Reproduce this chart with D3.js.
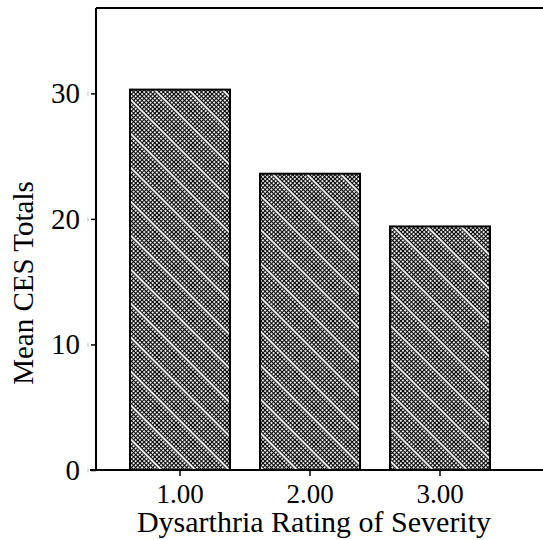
<!DOCTYPE html>
<html>
<head>
<meta charset="utf-8">
<script src="https://cdn.jsdelivr.net/npm/d3@7"></script>
<style>
  body { margin: 0; background: #fff; }
  text { font-family: "Liberation Serif", "Times New Roman", serif; fill: #000; }
</style>
</head>
<body>
<script>
var w = 543;
var h = 540;

// Data
var categories = ["1.00", "2.00", "3.00"];
var meanTotals = [30.3, 23.6, 19.4];
var yTicks = [0, 10, 20, 30];

var plotLeft = 96, plotTop = 8, plotBottom = 470;

var svg = d3.select("body")
    .append("svg")
    .attr("width", w)
    .attr("height", h);

// hatch fill like the old SPSS bars
var defs = svg.append("defs");
var pat = defs.append("pattern")
    .attr("id", "hatch")
    .attr("patternUnits", "userSpaceOnUse")
    .attr("width", 24)
    .attr("height", 24)
    .attr("patternTransform", "rotate(45)");
pat.append("rect").attr("width", 24).attr("height", 24).attr("fill", "#fff");
for (var i = 0; i < 8; i++) {
    pat.append("rect").attr("x", 0).attr("y", i * 3).attr("width", 24).attr("height", 1.2).attr("fill", "#000");
    pat.append("rect").attr("x", i * 3).attr("y", 0).attr("width", 1).attr("height", 24).attr("fill", "#000");
}
pat.append("rect").attr("x", 0).attr("y", 1.3).attr("width", 24).attr("height", 1.9).attr("fill", "#fff");

var xScale = d3.scaleBand()
    .domain(categories)
    .range([115, 505])
    .paddingInner(30 / 130)
    .paddingOuter(15 / 130);

var yScale = d3.scaleLinear()
    .domain([0, 36.8])
    .range([plotBottom, plotTop]);

// bars
svg.selectAll("rect.bar")
    .data(meanTotals)
    .enter()
    .append("rect")
    .attr("class", "bar")
    .attr("x", function(d, i) { return xScale(categories[i]); })
    .attr("y", function(d) { return yScale(d); })
    .attr("width", xScale.bandwidth())
    .attr("height", function(d) { return plotBottom - yScale(d); })
    .attr("fill", "url(#hatch)")
    .attr("stroke", "#000")
    .attr("stroke-width", 2);

// frame: top line
svg.append("line")
    .attr("x1", plotLeft).attr("x2", w)
    .attr("y1", plotTop).attr("y2", plotTop)
    .attr("stroke", "#000").attr("stroke-width", 2);

// y axis
var yAxis = svg.append("g")
    .attr("transform", "translate(" + plotLeft + ",0)")
    .call(d3.axisLeft(yScale).tickValues(yTicks).tickSize(5).tickPadding(11).tickFormat(d3.format("d")));
yAxis.select(".domain").attr("d", "M0," + plotTop + "V" + plotBottom).attr("stroke-width", 2);
yAxis.selectAll(".tick line").attr("stroke-width", 1.5);
yAxis.selectAll(".tick text").attr("font-size", 29).attr("font-family", "Liberation Serif");
// small grey marks beside each tick
yAxis.selectAll(".tick").append("line")
    .attr("x1", -8).attr("x2", -8).attr("y1", -2).attr("y2", 2)
    .attr("stroke", "#bbb").attr("stroke-width", 1);

// x axis
var xAxis = svg.append("g")
    .attr("transform", "translate(0," + plotBottom + ")")
    .call(d3.axisBottom(xScale).tickSize(6).tickPadding(8));
xAxis.select(".domain").attr("d", "M90,0H" + w).attr("stroke-width", 2);
xAxis.selectAll(".tick line").attr("stroke-width", 1.5);
xAxis.selectAll(".tick text").attr("font-size", 27).attr("font-family", "Liberation Serif");

// axis titles
svg.append("text")
    .attr("text-anchor", "middle")
    .attr("x", 314)
    .attr("y", 532)
    .attr("font-size", 30)
    .text("Dysarthria Rating of Severity");

svg.append("text")
    .attr("text-anchor", "middle")
    .attr("transform", "rotate(-90)")
    .attr("x", -283)
    .attr("y", 33)
    .attr("font-size", 29)
    .text("Mean CES Totals");
</script>
</body>
</html>
